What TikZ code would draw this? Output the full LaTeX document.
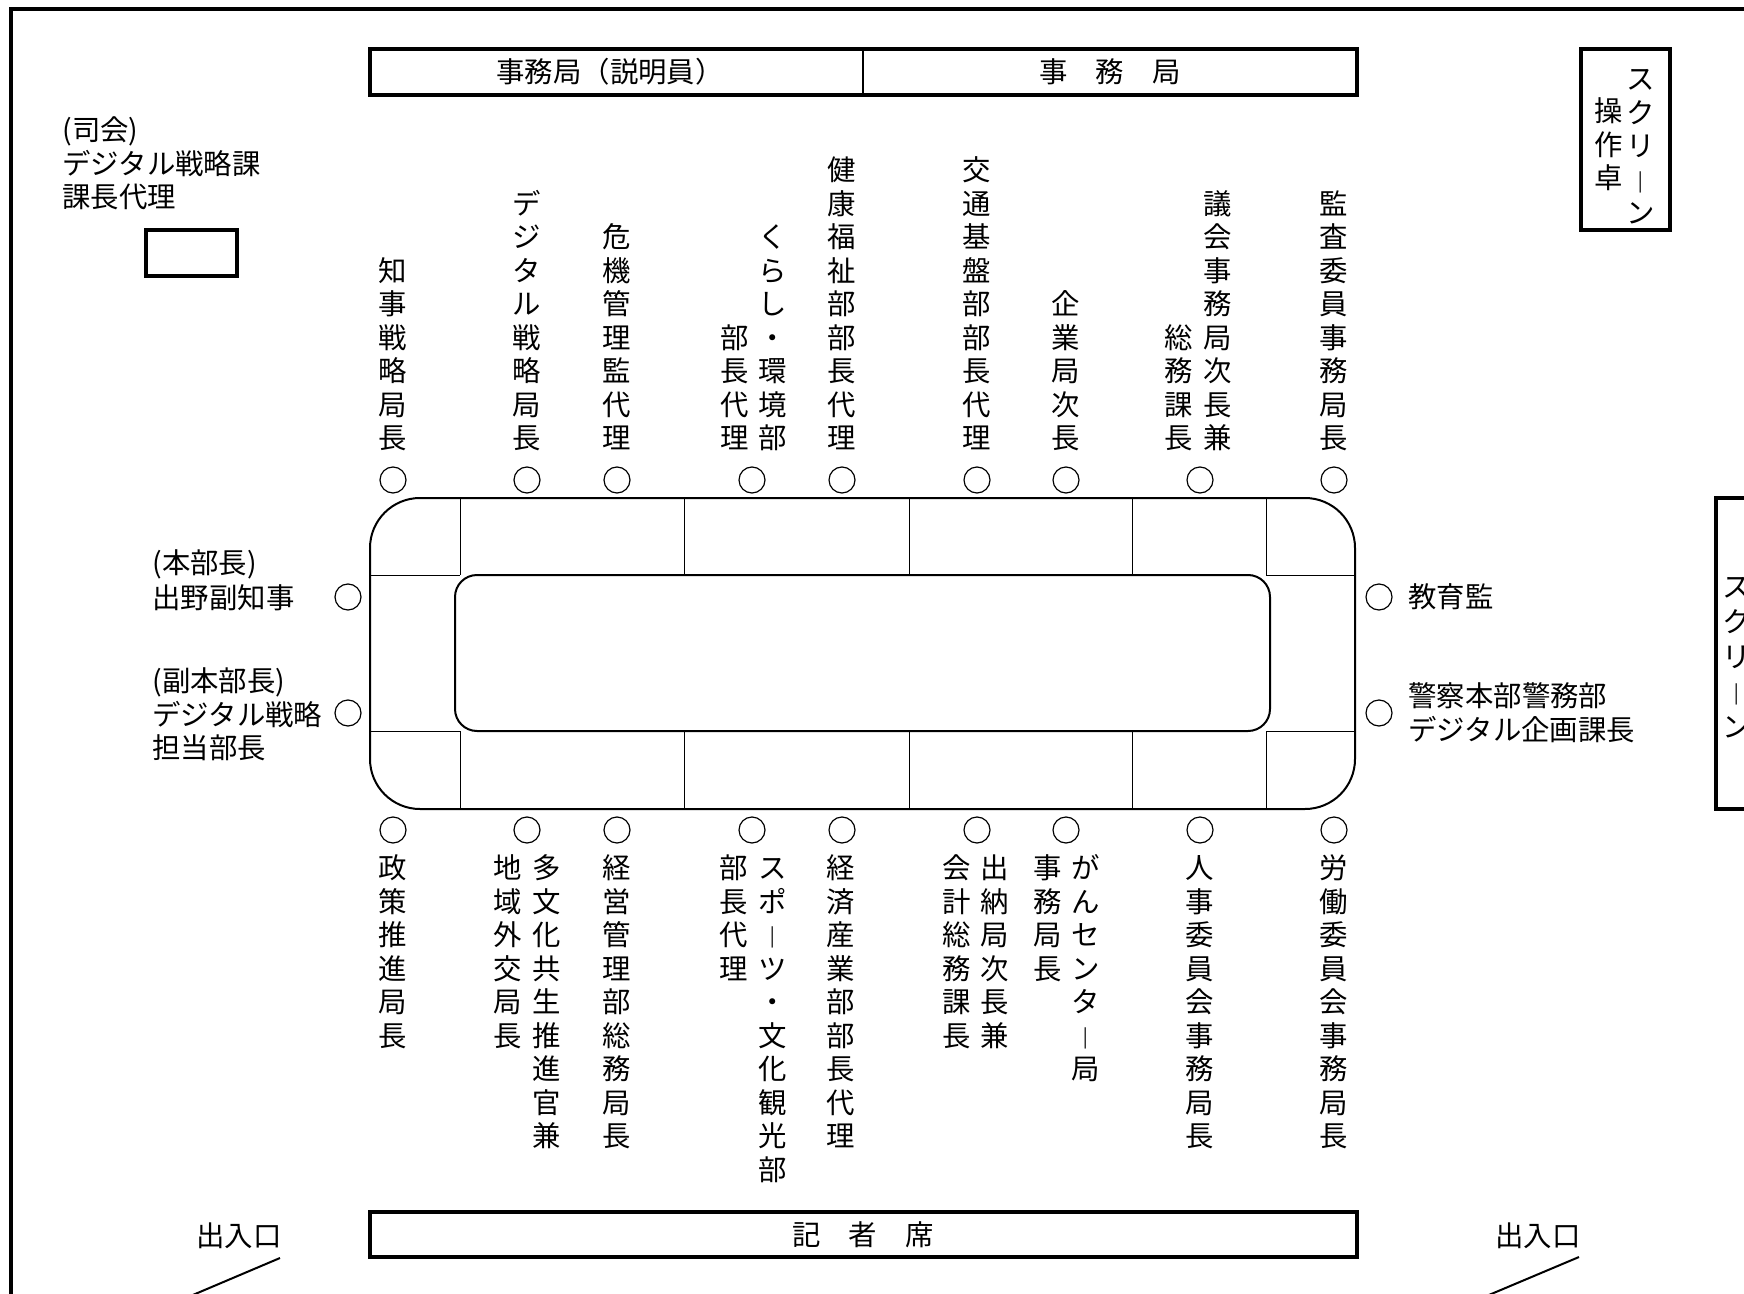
\documentclass[tikz,border=0pt]{standalone}
\usepackage{fontspec}
\setmainfont{Noto Sans CJK JP}
\newcommand{\lblfont}{\fontsize{14.2pt}{16.75pt}\selectfont}
\newcommand{\vbarch}{\scalebox{1}[0.75]{｜}}
\def\vsp{33.5}
\newcommand{\vcol}[4]{\foreach \ch [count=\i] in {#4}{\node[ch] (#1-\i) at (#2,{#3+(\i-1)*\vsp}) {\ch};}}
\tikzset{
  ch/.style={inner sep=0pt, text height=12.5pt, text depth=1.7pt, font=\lblfont},
  lbl/.style={inner sep=0pt, text height=12.5pt, text depth=1.7pt, anchor=west, font=\lblfont},
  ctr/.style={inner sep=0pt, text height=12.5pt, text depth=1.7pt, font=\lblfont},
  frame/.style={line width=1.7pt},
  boxline/.style={line width=1.6pt},
  tableline/.style={line width=1pt},
  thinline/.style={line width=0.5pt},
  seat/.style={line width=0.6pt},
}
\begin{document}
\begin{tikzpicture}[x=0.5pt,y=-0.5pt]
\useasboundingbox (0,0) rectangle (1744,1294);
\fill[white] (0,0) rectangle (1744,1294);
% outer frame
\draw[frame] (11,9) rectangle (1800,1360);
% top boxes
\draw[boxline] (370,49) rectangle (1357,95);
\draw[tableline] (863,49) -- (863,95);
\node[ctr] (hdrL) at (610,72) {事務局（説明員）};
\node[ctr] (hdrR) at (1110,72) {事　務　局};
% screen console
\draw[boxline] (1581,49) rectangle (1670,230);
\vcol{scr}{1641}{79}{ス,ク,リ,\vbarch,ン}
\vcol{ops}{1609}{111}{操,作,卓}
% chair desk
\draw[boxline] (146,230) rectangle (237,276);
\node[lbl] (mc1) at (62,130) {(司会)};
\node[lbl] (mc2) at (62,164) {デジタル戦略課};
\node[lbl] (mc3) at (62,197) {課長代理};
% table
\draw[tableline, rounded corners=25pt] (370,498) rectangle (1355,809);
\draw[tableline, rounded corners=11pt] (455,575) rectangle (1270,731);
\foreach \x in {460,684,909,1132,1266}{
  \draw[thinline] (\x,498) -- (\x,575);
  \draw[thinline] (\x,731) -- (\x,809);
}
\draw[thinline] (370,575) -- (460,575);
\draw[thinline] (370,731) -- (460,731);
\draw[thinline] (1266,575) -- (1355,575);
\draw[thinline] (1266,731) -- (1355,731);
% seats top and bottom
\foreach \x in {393,527,617,752,842,977,1066,1200,1334}{
  \draw[seat] (\x,480) circle[radius=13];
  \draw[seat] (\x,830) circle[radius=13];
}
% seats sides
\draw[seat] (348,597) circle[radius=13];
\draw[seat] (348,713) circle[radius=13];
\draw[seat] (1379,597) circle[radius=13];
\draw[seat] (1379,713) circle[radius=13];
% top labels
\vcol{t1}{393}{270.5}{知,事,戦,略,局,長}
\vcol{t2}{527}{203.5}{デ,ジ,タ,ル,戦,略,局,長}
\vcol{t3}{617}{237}{危,機,管,理,監,代,理}
\vcol{t4a}{773}{237}{く,ら,し,・,環,境,部}
\vcol{t4b}{735}{337.5}{部,長,代,理}
\vcol{t5}{842}{170}{健,康,福,祉,部,部,長,代,理}
\vcol{t6}{977}{170}{交,通,基,盤,部,部,長,代,理}
\vcol{t7}{1066}{304}{企,業,局,次,長}
\vcol{t8a}{1218}{203.5}{議,会,事,務,局,次,長,兼}
\vcol{t8b}{1179}{337.5}{総,務,課,長}
\vcol{t9}{1334}{203.5}{監,査,委,員,事,務,局,長}
% bottom labels
\vcol{b1}{393}{868}{政,策,推,進,局,長}
\vcol{b2a}{547}{868}{多,文,化,共,生,推,進,官,兼}
\vcol{b2b}{508}{868}{地,域,外,交,局,長}
\vcol{b3}{617}{868}{経,営,管,理,部,総,務,局,長}
\vcol{b4a}{773}{868}{ス,ポ,\vbarch,ツ,・,文,化,観,光,部}
\vcol{b4b}{734}{868}{部,長,代,理}
\vcol{b5}{841}{868}{経,済,産,業,部,部,長,代,理}
\vcol{b6a}{995}{868}{出,納,局,次,長,兼}
\vcol{b6b}{957}{868}{会,計,総,務,課,長}
\vcol{b7a}{1086}{868}{が,ん,セ,ン,タ,\vbarch,局}
\vcol{b7b}{1048}{868}{事,務,局,長}
\vcol{b8}{1200}{868}{人,事,委,員,会,事,務,局,長}
\vcol{b9}{1334}{868}{労,働,委,員,会,事,務,局,長}
% side labels
\node[lbl] (l1) at (152,563) {(本部長)};
\node[lbl] (l2) at (152,598) {出野副知事};
\node[lbl] (l3) at (152,681) {(副本部長)};
\node[lbl] (l4) at (152,715) {デジタル戦略};
\node[lbl] (l5) at (152,748) {担当部長};
\node[lbl] (r1) at (1408,597) {教育監};
\node[lbl] (r2) at (1408,696) {警察本部警務部};
\node[lbl] (r3) at (1408,730) {デジタル企画課長};
% screen right
\draw[boxline] (1716,498) rectangle (1780,809);
\begin{scope}
\def\vsp{35}
\vcol{scr2}{1737}{587}{ス,ク,リ,\vbarch,ン}
\end{scope}
% press seats
\draw[boxline] (370,1212) rectangle (1357,1257);
\node[ctr] (press) at (863,1234.5) {記　者　席};
% entrances
\node[ctr] (ent1) at (239,1236) {出入口};
\node[ctr] (ent2) at (1538,1236) {出入口};
\coordinate (e1a) at (280,1258);
\coordinate (e1b) at (181,1300);
\coordinate (e2a) at (1579,1257);
\coordinate (e2b) at (1477,1300);
\draw[tableline] (e1a) -- (e1b);
\draw[tableline] (e2a) -- (e2b);
\end{tikzpicture}
\end{document}
